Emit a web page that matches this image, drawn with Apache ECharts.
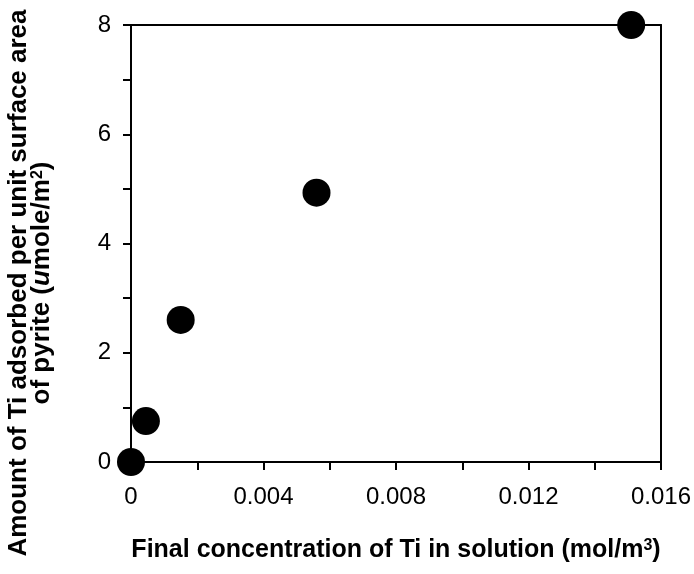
<!DOCTYPE html>
<html>
<head>
<meta charset="utf-8">
<script src="https://cdn.jsdelivr.net/npm/echarts@6/dist/echarts.min.js"></script>
<style>
  html, body { margin: 0; padding: 0; background: #fff; }
  #chart { width: 694px; height: 574px; }
</style>
</head>
<body>
<div id="chart"></div>
<script>
// concentration of Ti in solution (mol/m3)
const concentration = [0, 0.00045, 0.0015, 0.0056, 0.0151]
// amount adsorbed (umole/m2)
const adsorbed = [0, 0.75, 2.6, 4.93, 8.0]
const xTickLabels = ['0', '0.004', '0.008', '0.012', '0.016']
const yTickLabels = ['0', '2', '4', '6', '8']

const chart = echarts.init(document.getElementById('chart'))
const font = 'Liberation Sans, Arial, sans-serif'

chart.setOption({
  backgroundColor: '#ffffff',
  animation: false,
  grid: { left: 131, right: 33, top: 25, bottom: 112, outerBoundsMode: 'none', containLabel: false },
  // y title sits lower than the plot centre, so it is placed as free text
  graphic: [
    {
      type: 'text',
      x: 30,
      y: 283,
      rotation: Math.PI / 2,
      style: {
        text: '{b|Amount of Ti adsorbed per unit surface area}\n{b|of pyrite (}{i|u}{b|mole/m}{s|2}{b|)}',
        align: 'center',
        verticalAlign: 'middle',
        fill: '#000',
        rich: {
          b: { fontFamily: font, fontSize: 26, fontWeight: 'bold', fill: '#000', lineHeight: 23 },
          i: { fontFamily: font, fontSize: 26, fontWeight: 'bold', fontStyle: 'italic', fill: '#000', lineHeight: 23 },
          s: { fontFamily: font, fontSize: 16, fontWeight: 'bold', fill: '#000', verticalAlign: 'top', lineHeight: 23 }
        }
      }
    }
  ],
  xAxis: [
    {
      type: 'value',
      min: 0,
      max: 0.016,
      interval: 0.002,
      name: '{b|Final concentration of Ti in solution (mol/m}{s|3}{b|)}',
      nameLocation: 'middle',
      nameGap: 76,
      nameTextStyle: {
        fontFamily: font,
        fontSize: 25,
        fontWeight: 'bold',
        color: '#000',
        rich: {
          b: { fontFamily: font, fontSize: 25, fontWeight: 'bold', color: '#000' },
          s: { fontFamily: font, fontSize: 16, fontWeight: 'bold', color: '#000', verticalAlign: 'top' }
        }
      },
      axisLine: { onZero: false, lineStyle: { color: '#000', width: 2 } },
      axisTick: { show: true, length: 8, lineStyle: { color: '#000', width: 2 } },
      axisLabel: {
        margin: 23,
        fontFamily: font,
        fontSize: 24,
        color: '#000',
        formatter: function (v) {
          const i = xTickLabels.indexOf(String(+v.toFixed(3)))
          return Math.round(v / 0.002) % 2 === 0 && i >= 0 ? xTickLabels[i] : ''
        }
      },
      splitLine: { show: false }
    },
    {
      type: 'value',
      position: 'top',
      min: 0,
      max: 0.016,
      axisLine: { show: true, onZero: false, lineStyle: { color: '#000', width: 2 } },
      axisTick: { show: false },
      axisLabel: { show: false },
      splitLine: { show: false }
    }
  ],
  yAxis: [
    {
      type: 'value',
      min: 0,
      max: 8,
      interval: 1,
      axisLine: { onZero: false, lineStyle: { color: '#000', width: 2 } },
      axisTick: { show: true, length: 8, lineStyle: { color: '#000', width: 2 } },
      axisLabel: {
        margin: 20,
        fontFamily: font,
        fontSize: 24,
        color: '#000',
        formatter: function (v) {
          return yTickLabels.indexOf(String(v)) >= 0 ? String(v) : ''
        }
      },
      splitLine: { show: false }
    },
    {
      type: 'value',
      position: 'right',
      min: 0,
      max: 8,
      axisLine: { show: true, onZero: false, lineStyle: { color: '#000', width: 2 } },
      axisTick: { show: false },
      axisLabel: { show: false },
      splitLine: { show: false }
    }
  ],
  series: [
    {
      type: 'scatter',
      symbol: 'circle',
      symbolSize: 28,
      itemStyle: { color: '#000', opacity: 1 },
      clip: false,
      z: 10,
      data: concentration.map((x, i) => [x, adsorbed[i]])
    }
  ]
})
</script>
</body>
</html>
